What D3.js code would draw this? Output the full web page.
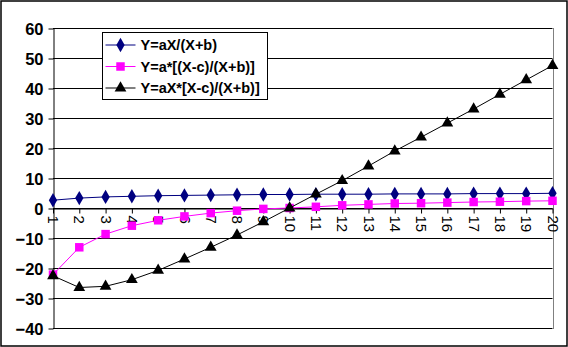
<!DOCTYPE html>
<html>
  <head>
    <meta charset="utf-8">
    <title>Three curves</title>
    <script src="https://d3js.org/d3.v7.min.js"></script>
    <style>
      body { margin: 0; background: #fff; }
      svg { display: block; font-family: "Liberation Sans", Arial, sans-serif; }
      .ylab { font-weight: bold; font-size: 16.5px; }
      .leg { font-weight: bold; font-size: 14.5px; }
    </style>
  </head>
  <body>
    <div id="chart"></div>
    <script>
      // data
      var categories = d3.range(1, 21);
      var yTicks = [-40, -30, -20, -10, 0, 10, 20, 30, 40, 50, 60];
      var seriesNames = ["Y=aX/(X+b)", "Y=a*[(X-c)/(X+b)]", "Y=aX*[X-c)/(X+b)]"];
      var s1 = [2.6, 3.3, 3.7, 3.9, 4.1, 4.2, 4.3, 4.4, 4.5, 4.5, 4.6, 4.6, 4.6, 4.7, 4.7, 4.7, 4.8, 4.8, 4.8, 4.9];
      var s2 = [-22.2, -13.1, -8.7, -5.9, -4.1, -2.8, -1.7, -0.9, -0.3, 0, 0.4, 0.9, 1.2, 1.5, 1.6, 1.8, 2.0, 2.1, 2.3, 2.4];
      var s3 = [-22.6, -26.5, -26.1, -23.9, -20.8, -17, -13.1, -9, -4.6, 0, 4.6, 9.1, 14, 19, 23.6, 28.3, 33, 37.9, 42.7, 47.5];

      var W = 568, H = 347;
      var margin = { top: 28, right: 15, bottom: 19, left: 53 };

      var svg = d3.select("#chart").append("svg")
        .attr("width", W)
        .attr("height", H);

      // outer frame
      svg.append("rect")
        .attr("x", 1).attr("y", 1)
        .attr("width", W - 2).attr("height", H - 2)
        .attr("fill", "#fff")
        .attr("stroke", "#000")
        .attr("stroke-width", 1.5);

      var x = d3.scalePoint()
        .domain(categories)
        .range([margin.left, W - margin.right - 0.5]);
      var y = d3.scaleLinear()
        .domain([-40, 60])
        .range([H - margin.bottom, margin.top]);

      // gridlines
      svg.append("g")
        .selectAll("line")
        .data(yTicks)
        .join("line")
        .attr("x1", margin.left)
        .attr("x2", x(20))
        .attr("y1", function(d) { return Math.round(y(d)) + 0.5; })
        .attr("y2", function(d) { return Math.round(y(d)) + 0.5; })
        .attr("stroke", "#000");

      // right border of plot area
      svg.append("line")
        .attr("x1", Math.round(x(20)) + 0.5).attr("x2", Math.round(x(20)) + 0.5)
        .attr("y1", y(60)).attr("y2", y(-40) + 1)
        .attr("stroke", "#808080");

      // y axis
      var yAxis = svg.append("g")
        .attr("transform", "translate(" + (Math.round(margin.left) + 0.5) + ",0.5)")
        .call(d3.axisLeft(y).tickValues(yTicks).tickSize(5).tickPadding(5).tickSizeOuter(0));
      yAxis.attr("font-family", null).attr("font-size", null);
      yAxis.select(".domain").attr("stroke", "#000");
      yAxis.selectAll(".tick line").attr("stroke", "#000");
      yAxis.selectAll("text")
        .attr("class", "ylab")
        .attr("fill", "#000")
        .attr("dy", "0.36em");

      // x axis at zero
      var xAxis = svg.append("g")
        .attr("transform", "translate(0," + (Math.round(y(0)) + 0.5) + ")")
        .call(d3.axisBottom(x).tickSize(5).tickSizeOuter(0));
      xAxis.attr("font-family", null).attr("font-size", null);
      xAxis.select(".domain").attr("stroke", "#000");
      xAxis.selectAll(".tick line").attr("stroke", "#000");
      xAxis.selectAll("text")
        .attr("font-size", 15)
        .attr("fill", "#000")
        .attr("transform", "rotate(90)")
        .attr("text-anchor", "start")
        .attr("x", 7)
        .attr("y", 0)
        .attr("dy", "0.36em");

      var series = [
        { name: seriesNames[0], values: s1, color: "#000080", shape: d3.symbolDiamond, size: 60 },
        { name: seriesNames[1], values: s2, color: "#FF00FF", shape: d3.symbolSquare, size: 72 },
        { name: seriesNames[2], values: s3, color: "#000000", shape: d3.symbolTriangle, size: 60 }
      ];

      var line = d3.line()
        .x(function(d, i) { return x(categories[i]); })
        .y(function(d) { return y(d); });

      series.forEach(function(s) {
        svg.append("path")
          .attr("d", line(s.values))
          .attr("fill", "none")
          .attr("stroke", s.color)
          .attr("stroke-width", 1);
        svg.append("g")
          .selectAll("path")
          .data(s.values)
          .join("path")
          .attr("transform", function(d, i) { return "translate(" + x(categories[i]) + "," + y(d) + ")"; })
          .attr("d", d3.symbol().type(s.shape).size(s.size))
          .attr("fill", s.color);
      });

      // legend
      var legend = svg.append("g").attr("transform", "translate(102.5,32.5)");
      legend.append("rect")
        .attr("width", 165).attr("height", 67)
        .attr("fill", "#fff").attr("stroke", "#000");
      var rows = legend.selectAll("g.row")
        .data(series)
        .join("g")
        .attr("class", "row")
        .attr("transform", function(d, i) { return "translate(0," + (12.5 + i * 21.5) + ")"; });
      rows.append("line")
        .attr("x1", 3).attr("x2", 33)
        .attr("stroke", function(d) { return d.color; });
      rows.append("path")
        .attr("transform", "translate(18,0)")
        .attr("d", function(d) { return d3.symbol().type(d.shape).size(d.size)(); })
        .attr("fill", function(d) { return d.color; });
      rows.append("text")
        .attr("class", "leg")
        .attr("x", 38)
        .attr("dy", "0.36em")
        .text(function(d) { return d.name; });
    </script>
  </body>
</html>
